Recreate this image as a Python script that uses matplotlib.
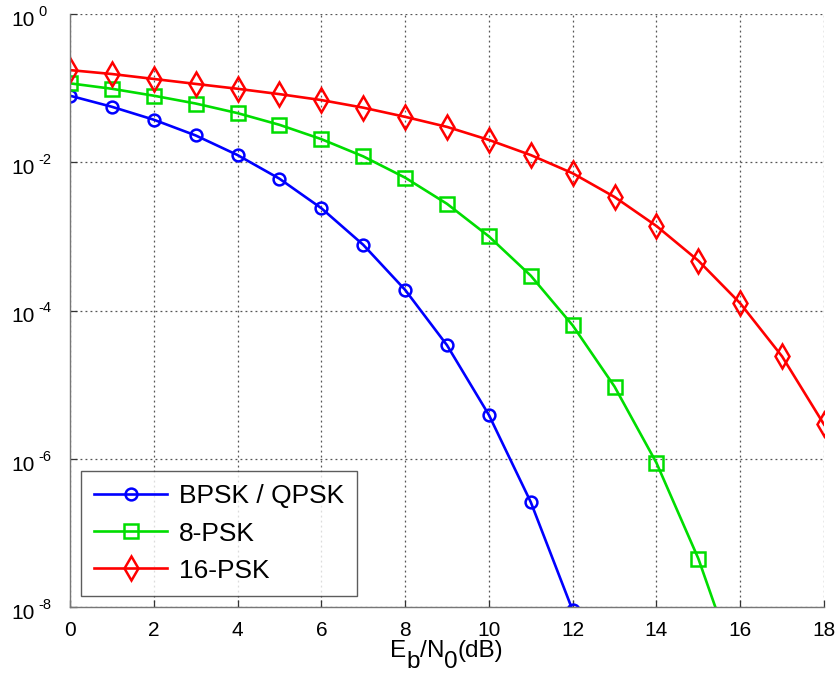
"""
Bit error rate versus Eb/N0 for BPSK/QPSK, 8-PSK and 16-PSK.
"""

import matplotlib
matplotlib.use("Agg")
import matplotlib.pyplot as plt
from matplotlib.ticker import FixedLocator, NullFormatter
from matplotlib.transforms import offset_copy

plt.rcParams['font.family'] = ['Liberation Sans', 'DejaVu Sans']

# Eb/N0 in dB and BER values
ebn0_bpsk = [0, 1, 2, 3, 4, 5, 6, 7, 8, 9, 10, 11, 12, 13]
ber_bpsk = [7.9e-2, 5.6e-2, 3.75e-2, 2.3e-2, 1.25e-2, 6.0e-3, 2.4e-3,
            7.7e-4, 1.9e-4, 3.4e-5, 3.9e-6, 2.6e-7, 9.0e-9, 1.2e-10]

ebn0_8psk = [0, 1, 2, 3, 4, 5, 6, 7, 8, 9, 10, 11, 12, 13, 14, 15, 16]
ber_8psk = [1.16e-1, 9.8e-2, 7.9e-2, 6.2e-2, 4.6e-2, 3.2e-2, 2.05e-2,
            1.2e-2, 6.2e-3, 2.75e-3, 1.0e-3, 2.95e-4, 6.3e-5, 9.4e-6,
            8.8e-7, 4.5e-8, 1.1e-9]

ebn0_16psk = [0, 1, 2, 3, 4, 5, 6, 7, 8, 9, 10, 11, 12, 13, 14, 15, 16, 17, 18]
ber_16psk = [1.75e-1, 1.55e-1, 1.33e-1, 1.14e-1, 9.8e-2, 8.3e-2, 6.9e-2,
             5.45e-2, 4.1e-2, 3.0e-2, 2.0e-2, 1.25e-2, 7.1e-3, 3.4e-3,
             1.38e-3, 4.7e-4, 1.25e-4, 2.4e-5, 2.9e-6]

labels = ['BPSK / QPSK', '8-PSK', '16-PSK']
y_exponents = [0, -2, -4, -6, -8]
x_ticks = [0, 2, 4, 6, 8, 10, 12, 14, 16, 18]

W, H = 839, 674
fig = plt.figure(figsize=(W / 100, H / 100), dpi=100)
ax = fig.add_axes([70 / W, 67 / H, 754 / W, 593 / H])

ax.semilogy(ebn0_bpsk, ber_bpsk, color='#0000ff', lw=1.9, marker='o',
            ms=8.5, mfc='none', mew=1.8, label=labels[0])
ax.semilogy(ebn0_8psk, ber_8psk, color='#00dd00', lw=1.9, marker='s',
            ms=10.5, mfc='none', mew=1.8, label=labels[1])
ax.semilogy(ebn0_16psk, ber_16psk, color='#ff0000', lw=1.9, marker='d',
            ms=12.5, mfc='none', mew=1.8, label=labels[2])

ax.set_xlim(0, 18)
ax.set_ylim(1e-8, 1)
ax.xaxis.set_major_locator(FixedLocator(x_ticks))
ax.yaxis.set_major_locator(FixedLocator([10.0 ** e for e in y_exponents]))
ax.yaxis.set_minor_locator(FixedLocator([]))
ax.yaxis.set_major_formatter(NullFormatter())

ax.grid(True, which='major', color='#555555', ls=(0, (1.5, 2.5)), lw=0.9)
ax.tick_params(direction='in', length=5, width=0.9, colors='#333333',
               labelcolor='black', top=False, right=False)
ax.tick_params(axis='x', labelsize=15, pad=10)
for side in ['top', 'right']:
    ax.spines[side].set_visible(False)
for side in ['left', 'bottom']:
    ax.spines[side].set_color('#777777')
    ax.spines[side].set_linewidth(1.0)

# y tick labels drawn as "10" plus a small raised exponent
ytrans = ax.get_yaxis_transform()
for e in y_exponents:
    base = offset_copy(ytrans, fig=fig, x=-35, y=-12, units='dots')
    ax.text(0, 10.0 ** e, '10', transform=base, fontsize=15,
            ha='right', va='baseline', clip_on=False)
    sup = offset_copy(ytrans, fig=fig, x=-32, y=-2, units='dots')
    ax.text(0, 10.0 ** e, str(e).replace('\u2212', '-'), transform=sup,
            fontsize=10.5, ha='left', va='baseline', clip_on=False)

leg = ax.legend(loc='lower left', fontsize=19, frameon=True, fancybox=False,
                borderaxespad=0.42, handlelength=2.75, handletextpad=0.45,
                labelspacing=0.5, borderpad=0.5)
leg.get_frame().set_edgecolor('#333333')
leg.get_frame().set_linewidth(1.0)

# x label with full-size lowered subscripts: E_b/N_0(dB)
fig.canvas.draw()
renderer = fig.canvas.get_renderer()
parts = [('E', False), ('b', True), ('/', False), ('N', False),
         ('0', True), ('(dB)', False)]
pieces = []
total = 0.0
for s, sub in parts:
    t = fig.text(0, 0, s, fontsize=17.5, va='baseline', ha='left')
    w = t.get_window_extent(renderer).width
    pieces.append((t, w, sub))
    total += w
x_px = 447 - total / 2
base_px = 17
for t, w, sub in pieces:
    t.set_position((x_px / W, (base_px - (11 if sub else 0)) / H))
    x_px += w

plt.savefig('out.png', dpi=100)
plt.close(fig)
